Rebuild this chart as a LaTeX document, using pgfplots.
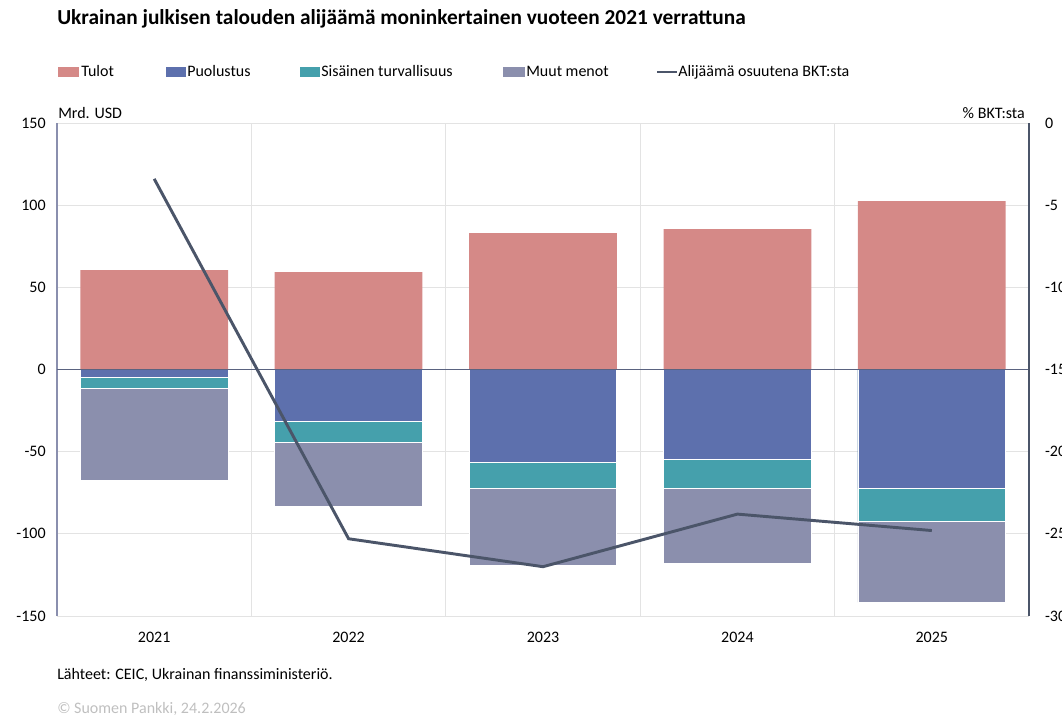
\documentclass[border=0pt]{standalone}
\usepackage{fontspec}
\setmainfont{Carlito}
\usepackage{pgfplots}
\usepackage{pgfplotstable}
\pgfplotsset{compat=1.18}

\definecolor{tulot}{HTML}{D58987}
\definecolor{puol}{HTML}{5D70AD}
\definecolor{sis}{HTML}{45A0AC}
\definecolor{muut}{HTML}{8B8FAD}
\definecolor{linec}{HTML}{4B5569}
\definecolor{leftax}{HTML}{8A8FAE}
\definecolor{zeroc}{HTML}{5A6380}
\definecolor{gridc}{HTML}{E3E3E3}

% t = Tulot, d = Puolustus, s = Sisainen turvallisuus, m = Muut menot (Mrd. USD)
% g = alijaama, % BKT:sta
\pgfplotstableread{
x  t      d      s      m      g
0  60.4   -4.7   -7.0   -56.0  -3.4
1  59.3   -31.8  -12.3  -39.2  -25.3
2  83.0   -56.3  -16.2  -46.5  -27.0
3  85.4   -54.9  -17.2  -45.9  -23.8
4  102.4  -72.5  -19.8  -49.4  -24.8
}\data

\begin{document}
\begin{tikzpicture}[font=\fontsize{12}{14}\selectfont]
\pgfplotsset{
  every axis/.append style={
    scale only axis, width=729pt, height=369.75pt,
    xmin=-0.5, xmax=4.5,
    tick style={draw=none},
    /pgf/number format/assume math mode=true,
    ticklabel style={font=\fontsize{12}{14}\selectfont},
  },
}
\begin{axis}[
  axis lines*=left,
  x axis line style={draw=none},
  y axis line style={leftax, line width=1.2pt},
  ymin=-150, ymax=150, ytick={-150,-100,...,150},
  xtick={0,1,2,3,4},
  xticklabels={2021,2022,2023,2024,2025},
  minor xtick={0.5,1.5,2.5,3.5},
  ymajorgrids, xminorgrids,
  grid style={gridc, line width=0.6pt},
  yticklabel style={xshift=-5pt},
  xticklabel style={yshift=-8.5pt},
]
\addplot[ybar, bar width=0.76, bar shift=0pt, fill=muut, draw=white, line width=0.6pt]
  table[x=x, y expr=\thisrow{d}+\thisrow{s}+\thisrow{m}] {\data};
\addplot[ybar, bar width=0.76, bar shift=0pt, fill=sis, draw=white, line width=0.6pt]
  table[x=x, y expr=\thisrow{d}+\thisrow{s}] {\data};
\addplot[ybar, bar width=0.76, bar shift=0pt, fill=puol, draw=white, line width=0.6pt]
  table[x=x, y=d] {\data};
\addplot[ybar, bar width=0.76, bar shift=0pt, fill=tulot, draw=none]
  table[x=x, y=t] {\data};
\draw[zeroc, line width=0.9pt] (axis cs:-0.5,0) -- (axis cs:4.5,0);
\end{axis}
\begin{axis}[
  axis y line*=right,
  axis x line=none,
  y axis line style={linec, line width=1pt},
  ymin=-30, ymax=0, ytick={-30,-25,...,0},
  yticklabel style={xshift=8.5pt, anchor=west},
]
\addplot[linec, line width=2.2pt, no marks] table[x=x, y=g] {\data};
\end{axis}

% title, legend, unit labels, notes
\node[anchor=base west, inner sep=0, font=\fontsize{16}{18}\selectfont\bfseries] at (0,443.25pt)
  {Ukrainan julkisen talouden alijäämä moninkertainen vuoteen 2021 verrattuna};
\fill[tulot] (0.75pt,404.25pt) rectangle (16.5pt,411.75pt);
\node[anchor=base west, inner sep=0] at (18pt,404.25pt) {Tulot};
\fill[puol] (81.75pt,404.25pt) rectangle (96.75pt,411.75pt);
\node[anchor=base west, inner sep=0] at (97.5pt,404.25pt) {Puolustus};
\fill[sis] (182.25pt,404.25pt) rectangle (197.25pt,411.75pt);
\node[anchor=base west, inner sep=0] at (198pt,404.25pt) {Sisäinen turvallisuus};
\fill[muut] (334.5pt,404.25pt) rectangle (351pt,411.75pt);
\node[anchor=base west, inner sep=0] at (351.75pt,404.25pt) {Muut menot};
\draw[linec, line width=2.2pt] (450pt,408pt) -- (465pt,408pt);
\node[anchor=base west, inner sep=0] at (465.75pt,404.25pt) {Alijäämä osuutena BKT:sta};
\node[anchor=base west, inner sep=0] at (0.75pt,372.75pt) {Mrd. USD};
\node[anchor=base east, inner sep=0] at (726pt,372.75pt) {\% BKT:sta};
\node[anchor=base west, inner sep=0] at (0,-47.25pt) {Lähteet: CEIC, Ukrainan finanssiministeriö.};
\node[anchor=base west, inner sep=0, text=black!25] at (0,-72.75pt) {© Suomen Pankki, 24.2.2026};

\pgfresetboundingbox
\useasboundingbox (-42.75pt,-75.75pt) rectangle (753.75pt,462pt);
\end{tikzpicture}
\end{document}
